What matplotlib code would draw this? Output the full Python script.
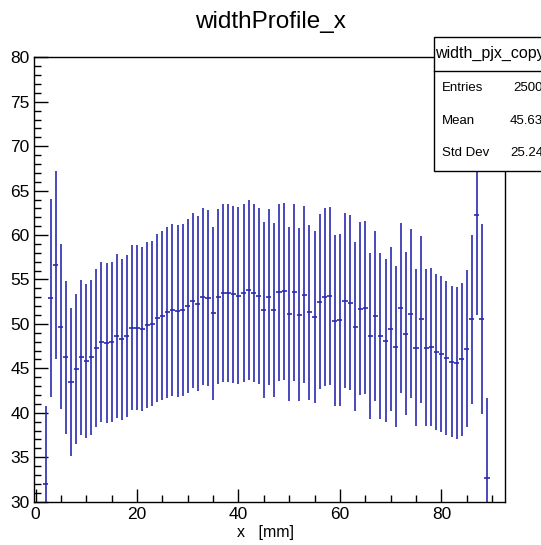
import numpy as np
import matplotlib
matplotlib.use("Agg")
import matplotlib.pyplot as plt
from matplotlib.patches import Rectangle
from matplotlib.lines import Line2D
from matplotlib.ticker import MultipleLocator

plt.rcParams['font.family'] = ['Liberation Sans', 'DejaVu Sans']

# ---- data ----
bin_centers = list(range(2, 90))  # x [mm], 88 bins of width 1
mean_width = [
    31.96, 52.92, 56.63, 49.70, 46.25, 43.47, 44.93, 46.25, 45.87, 46.25,
    47.30, 47.97, 47.90, 47.97, 48.65, 48.27, 48.65, 49.59, 49.59, 49.44,
    49.89, 50.04, 50.64, 50.93, 51.31, 51.57, 51.46, 51.57, 52.02, 52.62,
    52.25, 53.07, 52.92, 51.20, 53.07, 53.45, 53.45, 53.33, 53.18, 53.45,
    53.82, 53.45, 53.18, 51.57, 53.03, 51.57, 53.56, 53.67, 51.16, 53.56,
    51.05, 53.30, 51.31, 50.82, 52.51, 53.03, 53.18, 50.37, 50.48, 52.62,
    52.40, 49.70, 51.72, 51.83, 48.65, 50.93, 48.65, 48.12, 49.44, 47.45,
    51.83, 48.91, 51.16, 47.33, 50.52, 47.33, 47.45, 46.81, 46.66, 46.14,
    45.76, 45.65, 46.02, 47.22, 50.52, 62.22, 50.52, 32.71,
]
err_width = [
    8.80, 11.10, 10.57, 9.30, 8.60, 8.30, 8.45, 8.70, 8.66, 8.72,
    8.92, 9.05, 9.00, 9.04, 9.19, 9.06, 9.10, 9.28, 9.28, 9.24,
    9.34, 9.24, 9.47, 9.50, 9.62, 9.64, 9.64, 9.69, 9.75, 9.84,
    9.84, 9.97, 9.86, 9.75, 9.84, 10.01, 10.00, 9.94, 9.97, 10.00,
    10.12, 10.03, 9.92, 9.86, 9.95, 9.84, 9.94, 9.99, 9.79, 9.99,
    9.71, 9.97, 9.82, 9.66, 9.88, 9.97, 10.03, 9.60, 9.66, 9.86,
    9.84, 9.49, 9.73, 9.73, 9.30, 9.58, 9.30, 9.19, 9.20, 9.06,
    9.58, 9.13, 9.47, 8.85, 9.37, 8.85, 8.90, 8.76, 8.77, 8.64,
    8.53, 8.55, 8.64, 8.81, 9.50, 11.20, 10.67, 8.93,
]
bin_half_width = 0.5

title = "widthProfile_x"
xlabel = "x   [mm]"
stats_name = "width_pjx_copy"
stats_labels = ["Entries", "Mean", "Std Dev"]
stats_values = ["2500", "45.63", "25.24"]

W, H = 541, 545
fig = plt.figure(figsize=(W / 100, H / 100), dpi=100)

# axes frame in pixel coords
left, right, top, bottom = 34.0, 505.3, 57.3, 501.7
ax = fig.add_axes([left / W, 1 - bottom / H, (right - left) / W, (bottom - top) / H])

col = '#2a2aae'
ax.errorbar(bin_centers, mean_width, yerr=err_width, xerr=bin_half_width,
            fmt='none', ecolor=col, elinewidth=1.2, capsize=0)

ax.set_xlim(-0.3, 92.6)
ax.set_ylim(30, 80)

ax.xaxis.set_major_locator(MultipleLocator(20))
ax.xaxis.set_minor_locator(MultipleLocator(5))
ax.yaxis.set_major_locator(MultipleLocator(5))
ax.yaxis.set_minor_locator(MultipleLocator(1))
ax.tick_params(axis='both', which='both', direction='in', top=False, right=False,
               width=1.0, colors='black', labelsize=12.5)
ax.tick_params(axis='y', which='major', length=10, pad=3)
ax.tick_params(axis='y', which='minor', length=5)
ax.tick_params(axis='x', which='major', length=9.5, pad=4)
ax.tick_params(axis='x', which='minor', length=4.8)
for s in ax.spines.values():
    s.set_linewidth(1.0)

# title and axis label
fig.text(0.5, 1 - 22 / H, title, ha='center', va='center', fontsize=17.5)
fig.text(265.5 / W, 1 - 533 / H, xlabel, ha='center', va='center', fontsize=11.5)

# stats box (extends beyond the right edge, as in the reference)
bx0, by0, bx1, by1 = 434.3, 37.3, 570.0, 170.7
sep = 70.7
fig.patches.append(Rectangle((bx0 / W, 1 - by1 / H), (bx1 - bx0) / W, (by1 - by0) / H,
                             transform=fig.transFigure, facecolor='white',
                             edgecolor='black', linewidth=1.0, zorder=10))
fig.lines.append(Line2D([bx0 / W, bx1 / W], [1 - sep / H, 1 - sep / H],
                        transform=fig.transFigure, color='black', linewidth=1.0, zorder=11))
fig.text(435.0 / W, 1 - 53.3 / H, stats_name, ha='left', va='center', fontsize=11.5, zorder=12)
row_y = [88.3, 121.0, 153.3]
for lab, val, yy in zip(stats_labels, stats_values, row_y):
    fig.text(441.7 / W, 1 - yy / H, lab, ha='left', va='center', fontsize=9.5, zorder=12)
    fig.text(543.0 / W, 1 - yy / H, val, ha='right', va='center', fontsize=9.5, zorder=12)

fig.savefig("out.png", dpi=100)
